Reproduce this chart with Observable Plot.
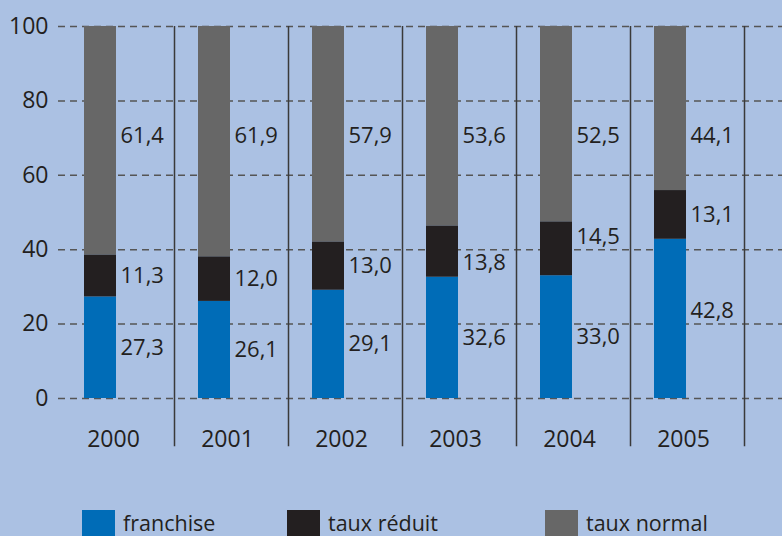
<!DOCTYPE html>
<html>
<head>
<meta charset="utf-8">
<script src="https://cdn.jsdelivr.net/npm/d3@7"></script>
<script src="https://cdn.jsdelivr.net/npm/@observablehq/plot@0.6"></script>
<style>
  html, body { margin: 0; padding: 0; background: #abc1e3; }
  #wrap { position: relative; width: 782px; height: 536px; overflow: hidden; background: #abc1e3; font-family: "Open Sans", sans-serif; color: #231f20; }
  .item { position: absolute; top: 510px; height: 26px; }
  .sw { position: absolute; left: 0; top: 0; width: 33px; height: 26px; }
  .lab { position: absolute; top: 2px; font-size: 21.5px; line-height: 22px; white-space: nowrap; }
</style>
</head>
<body>
<div id="wrap"></div>
<script>
const years = ["2000", "2001", "2002", "2003", "2004", "2005"];
const types = ["franchise", "taux réduit", "taux normal"];
const colors = ["#006cb7", "#231f20", "#676767"];
const franchise  = [27.3, 26.1, 29.1, 32.6, 33.0, 42.8];
const tauxReduit = [11.3, 12.0, 13.0, 13.8, 14.5, 13.1];
const tauxNormal = [61.4, 61.9, 57.9, 53.6, 52.5, 44.1];
const yTicks = [0, 20, 40, 60, 80, 100];

const series = [franchise, tauxReduit, tauxNormal];
const data = years.flatMap((yr, i) => types.map((t, k) => ({year: yr, type: t, value: series[k][i]})));
const fmt = v => v.toFixed(1).replace(".", ",");

// label placement: "taux normal" labels share one line; the others sit at the
// middle of their segment, nudged off a gridline when they would sit on it
const topLabelLevel = 70.7;
const labels = years.flatMap((yr, i) => {
  let base = 0;
  return types.map((t, k) => {
    const v = series[k][i];
    let mid = base + v / 2;
    base += v;
    if (t === "taux normal") mid = topLabelLevel;
    else {
      const g = Math.round(mid / 20) * 20;
      if (Math.abs(mid - g) < 2) mid = mid >= g ? g + 3.5 : g - 3.5;
    }
    return {year: yr, type: t, value: v, pos: mid};
  });
});

const chart = Plot.plot({
  width: 782,
  height: 500,
  marginLeft: 58,
  marginRight: 0,
  marginTop: 26,
  marginBottom: 102,
  style: {background: "#abc1e3", color: "#231f20", fontFamily: "'Open Sans', sans-serif", fontSize: "23px"},
  x: {domain: years, range: [60, 744], padding: 0, label: null},
  y: {domain: [0, 100], label: null},
  color: {domain: types, range: colors},
  marks: [
    Plot.ruleY(yTicks, {stroke: "#555555", strokeWidth: 1.5, strokeDasharray: "7,5"}),
    Plot.ruleX(years, {x: d => d, dx: 57, y1: -13, y2: 100, stroke: "#3a3a3a", strokeWidth: 1.5}),
    Plot.barY(data, Plot.stackY({x: "year", y: "value", z: "type", fill: "type", order: types, insetLeft: 24, insetRight: 58})),
    Plot.text(labels, {x: "year", y: "pos", text: d => fmt(d.value), textAnchor: "start", dx: 3, fontSize: 22, fill: "#231f20"}),
    Plot.axisY(yTicks, {tickSize: 0, tickPadding: 10, fontSize: 23, fill: "#231f20"}),
    Plot.axisX({tickSize: 0, tickPadding: 32, fontSize: 23, dx: -4, fill: "#231f20"})
  ]
});

const wrap = document.getElementById("wrap");
wrap.appendChild(chart);

const legendLeft = [82, 287, 545];
types.forEach((t, k) => {
  const item = document.createElement("div");
  item.className = "item";
  item.style.left = legendLeft[k] + "px";
  const sw = document.createElement("div");
  sw.className = "sw";
  sw.style.background = colors[k];
  const lab = document.createElement("div");
  lab.className = "lab";
  lab.style.left = "41px";
  lab.textContent = t;
  item.appendChild(sw);
  item.appendChild(lab);
  wrap.appendChild(item);
});
</script>
</body>
</html>
